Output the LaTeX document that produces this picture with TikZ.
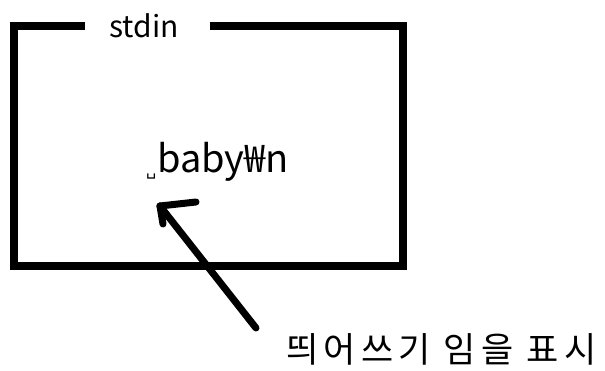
\documentclass[tikz,border=0pt]{standalone}
\usepackage{fontspec}
\setmainfont{Noto Sans CJK KR}
\newfontfamily\djv{DejaVu Sans}
\begin{document}
\begin{tikzpicture}[x=1pt,y=-1pt,
  boxline/.style={line width=8pt,line join=miter},
  pen/.style={line width=7pt,line cap=round,line join=round},
  lbl/.style={inner sep=0pt,anchor=base west}]
\useasboundingbox (0,0) rectangle (605,370);
% box with gap for title
\draw[boxline] (85,26) -- (14,26) -- (14,266) -- (403,266) -- (403,26) -- (210,26);
\node[lbl,font=\fontsize{30}{32}\selectfont] (title) at (109,37) {stdin};
\node[lbl,font=\fontsize{38}{40}\selectfont] (data) at (146,172) {{\djv\fontsize{16}{18}\selectfont\raisebox{-3pt}{␣}}\hspace{1pt}baby₩n};
\node[lbl,font=\fontsize{35}{38}\selectfont\addfontfeature{LetterSpace=15}] (note) at (286,362) {띄어쓰기 임을 표시};
\coordinate (tip) at (160,206);
\coordinate (tail) at (256,328);
\draw[pen] (tail) -- (tip);
\draw[pen] (tip) -- (163,224);
\draw[pen] (tip) -- (196,202);
\end{tikzpicture}
\end{document}
